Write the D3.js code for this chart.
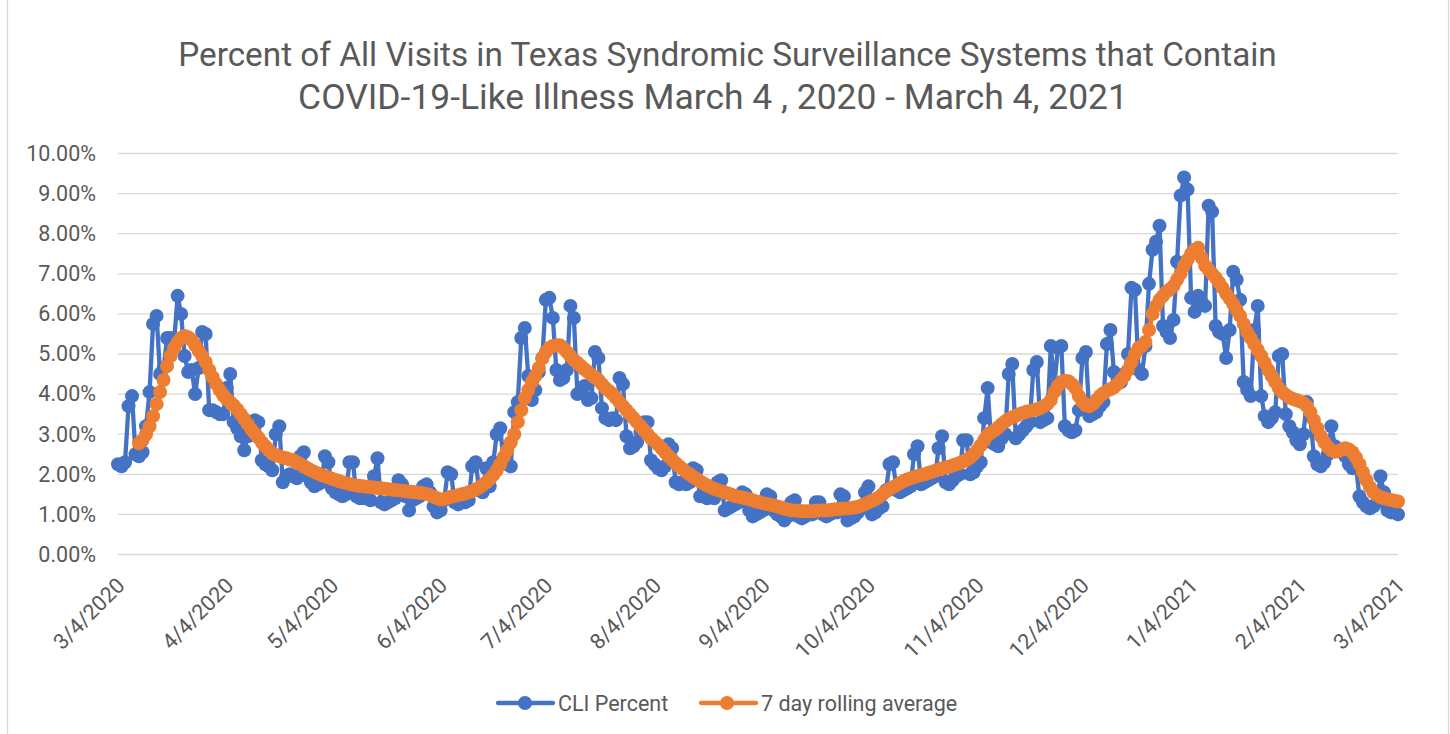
<!DOCTYPE html>
<html>
<head>
<meta charset="utf-8">
<script src="https://cdn.jsdelivr.net/npm/d3@7"></script>
<style>
  html, body { margin: 0; padding: 0; background: #ffffff; }
  svg { display: block; }
  text { font-family: Roboto, "Open Sans", sans-serif; fill: #595959; }
</style>
</head>
<body>
<svg id="chart" width="1450" height="734"></svg>
<script>
// ---------------- DATA ----------------
const titleLines = [
  "Percent of All Visits in Texas Syndromic Surveillance Systems that Contain",
  "COVID-19-Like Illness March 4 , 2020 - March 4, 2021"
];
const seriesNames = ["CLI Percent", "7 day rolling average"];
const startDate = "2020-03-04";
const xTickLabels = ["3/4/2020","4/4/2020","5/4/2020","6/4/2020","7/4/2020","8/4/2020",
  "9/4/2020","10/4/2020","11/4/2020","12/4/2020","1/4/2021","2/4/2021","3/4/2021"];
const yTickValues = [0,1,2,3,4,5,6,7,8,9,10];

// daily CLI percent, 3/4/2020 .. 3/4/2021
const cliPercent = [
  2.25, 2.2, 2.3, 3.7, 3.95, 2.5, 2.45, 2.55, 3.2, 4.05,
  5.75, 5.95, 4.5, 4.65, 5.4, 5.4, 5.3, 6.45, 6.0, 4.95,
  4.55, 4.6, 4.0, 4.65, 5.55, 5.5, 3.6, 3.6, 3.55, 3.5,
  3.5, 4.15, 4.5, 3.3, 3.15, 2.95, 2.6, 2.95, 3.0, 3.35,
  3.3, 2.35, 2.25, 2.2, 2.1, 3.0, 3.2, 1.8, 1.95, 2.0,
  1.95, 1.9, 2.45, 2.55, 1.95, 1.8, 1.7, 1.75, 1.8, 2.45,
  2.3, 1.65, 1.55, 1.5, 1.45, 1.5, 2.3, 2.3, 1.45, 1.4,
  1.4, 1.4, 1.35, 1.95, 2.4, 1.3, 1.25, 1.3, 1.35, 1.4,
  1.85, 1.75, 1.45, 1.1, 1.35, 1.4, 1.45, 1.7, 1.75, 1.55,
  1.2, 1.05, 1.1, 1.35, 2.05, 2.0, 1.3, 1.25, 1.3, 1.3,
  1.35, 2.2, 2.3, 1.6, 1.55, 2.15, 1.7, 2.3, 3.0, 3.15,
  2.3, 2.25, 2.2, 3.55, 3.8, 5.4, 5.65, 4.45, 3.85, 4.1,
  4.55, 4.9, 6.35, 6.4, 5.9, 4.6, 4.35, 4.4, 4.6, 6.2,
  5.9, 4.0, 4.05, 4.2, 3.85, 3.9, 5.05, 4.9, 3.65, 3.4,
  3.35, 3.4, 3.35, 4.4, 4.25, 2.95, 2.65, 2.7, 2.8, 3.05,
  3.3, 3.3, 2.35, 2.25, 2.15, 2.1, 2.2, 2.75, 2.65, 1.8,
  1.75, 1.8, 1.75, 1.8, 2.15, 2.1, 1.45, 1.5, 1.4, 1.45,
  1.4, 1.8, 1.85, 1.1, 1.15, 1.2, 1.25, 1.3, 1.55, 1.5,
  1.1, 0.95, 1.0, 1.05, 1.1, 1.5, 1.45, 1.1, 1.0, 0.95,
  0.85, 0.95, 1.3, 1.35, 0.95, 0.9, 0.95, 1.0, 1.0, 1.3,
  1.3, 1.0, 0.95, 1.0, 1.05, 1.05, 1.5, 1.45, 0.85, 0.9,
  0.95, 1.05, 1.15, 1.55, 1.7, 1.0, 1.05, 1.15, 1.2, 1.6,
  2.25, 2.3, 1.6, 1.55, 1.6, 1.65, 1.7, 2.5, 2.7, 1.75,
  1.8, 1.85, 1.9, 1.95, 2.65, 2.95, 1.8, 1.75, 1.85, 1.95,
  2.0, 2.85, 2.85, 2.0, 2.05, 2.2, 2.3, 3.4, 4.15, 2.8,
  2.75, 2.7, 2.9, 3.0, 4.5, 4.75, 2.9, 3.0, 3.1, 3.2,
  3.3, 4.6, 4.8, 3.3, 3.35, 3.4, 5.2, 4.2, 5.15, 5.2,
  3.2, 3.1, 3.05, 3.1, 3.6, 4.9, 5.05, 3.45, 3.5, 3.55,
  3.7, 3.8, 5.25, 5.6, 4.55, 4.4, 4.3, 4.5, 5.0, 6.65,
  6.6, 4.6, 4.5, 5.2, 6.75, 7.6, 7.8, 8.2, 5.7, 5.55,
  5.4, 5.85, 7.3, 8.95, 9.4, 9.1, 6.4, 6.05, 6.45, 6.3,
  6.2, 8.7, 8.55, 5.7, 5.55, 5.5, 4.9, 5.6, 7.05, 6.85,
  6.35, 4.3, 4.1, 3.95, 5.6, 6.2, 3.95, 3.45, 3.3, 3.4,
  3.55, 4.95, 5.0, 3.5, 3.2, 3.05, 2.85, 2.75, 3.0, 3.8,
  3.45, 2.45, 2.25, 2.2, 2.3, 2.5, 3.2, 2.7, 2.6, 2.55,
  2.45, 2.25, 2.15, 2.2, 1.45, 1.3, 1.2, 1.15, 1.2, 1.3,
  1.95, 1.55, 1.1, 1.05, 1.05, 1.0
];

// 7 day rolling average, first value on day 7 (3/10/2020)
const rollingStartDay = 6;
const rollingAverage = [
  2.77, 2.85, 3.0, 3.2, 3.45, 3.75, 4.05, 4.35, 4.7, 4.95,
  5.15, 5.3, 5.4, 5.45, 5.42, 5.35, 5.22, 5.08, 4.95, 4.8,
  4.6, 4.42, 4.25, 4.1, 3.97, 3.87, 3.8, 3.72, 3.62, 3.5,
  3.38, 3.25, 3.12, 3.02, 2.92, 2.8, 2.7, 2.6, 2.52, 2.48,
  2.45, 2.42, 2.4, 2.37, 2.35, 2.3, 2.25, 2.2, 2.15, 2.1,
  2.06, 2.02, 1.98, 1.95, 1.92, 1.89, 1.86, 1.83, 1.8, 1.78,
  1.76, 1.74, 1.72, 1.71, 1.7, 1.69, 1.68, 1.67, 1.66, 1.65,
  1.64, 1.63, 1.62, 1.61, 1.6, 1.59, 1.58, 1.57, 1.56, 1.55,
  1.54, 1.53, 1.51, 1.48, 1.44, 1.4, 1.37, 1.38, 1.41, 1.44,
  1.46, 1.48, 1.5, 1.52, 1.55, 1.58, 1.62, 1.67, 1.73, 1.8,
  1.88, 1.98, 2.1, 2.25, 2.43, 2.6, 2.8, 3.0, 3.3, 3.6,
  3.9, 4.1, 4.3, 4.45, 4.65, 4.9, 5.05, 5.15, 5.2, 5.22,
  5.22, 5.15, 5.05, 4.95, 4.85, 4.78, 4.7, 4.62, 4.55, 4.48,
  4.42, 4.35, 4.25, 4.15, 4.08, 4.0, 3.9, 3.8, 3.7, 3.6,
  3.5, 3.4, 3.3, 3.2, 3.1, 3.0, 2.9, 2.82, 2.74, 2.65,
  2.55, 2.45, 2.37, 2.28, 2.2, 2.13, 2.06, 2.0, 1.94, 1.88,
  1.82, 1.77, 1.72, 1.68, 1.64, 1.61, 1.58, 1.55, 1.52, 1.49,
  1.46, 1.44, 1.42, 1.4, 1.38, 1.35, 1.32, 1.3, 1.28, 1.26,
  1.24, 1.22, 1.2, 1.17, 1.14, 1.12, 1.1, 1.1, 1.09, 1.08,
  1.08, 1.08, 1.08, 1.09, 1.1, 1.1, 1.1, 1.11, 1.12, 1.13,
  1.14, 1.15, 1.15, 1.16, 1.17, 1.19, 1.22, 1.26, 1.3, 1.34,
  1.38, 1.43, 1.5, 1.57, 1.63, 1.68, 1.73, 1.78, 1.83, 1.87,
  1.9, 1.93, 1.96, 1.98, 2.0, 2.03, 2.06, 2.09, 2.12, 2.15,
  2.17, 2.19, 2.22, 2.25, 2.28, 2.32, 2.36, 2.42, 2.5, 2.6,
  2.72, 2.85, 2.98, 3.05, 3.1, 3.17, 3.25, 3.32, 3.38, 3.42,
  3.46, 3.5, 3.53, 3.56, 3.58, 3.6, 3.62, 3.65, 3.7, 3.75,
  3.85, 4.05, 4.2, 4.3, 4.33, 4.32, 4.25, 4.15, 3.95, 3.8,
  3.72, 3.7, 3.75, 3.85, 3.95, 4.02, 4.08, 4.12, 4.17, 4.25,
  4.35, 4.45, 4.6, 4.8, 5.0, 5.15, 5.2, 5.3, 5.6, 6.0,
  6.2, 6.35, 6.45, 6.55, 6.62, 6.7, 6.85, 7.0, 7.2, 7.35,
  7.5, 7.6, 7.65, 7.4, 7.2, 7.1, 7.0, 6.9, 6.78, 6.65,
  6.5, 6.38, 6.25, 6.1, 5.95, 5.75, 5.55, 5.4, 5.25, 5.1,
  4.95, 4.78, 4.6, 4.45, 4.3, 4.15, 4.05, 3.98, 3.92, 3.88,
  3.85, 3.82, 3.78, 3.7, 3.55, 3.35, 3.15, 2.95, 2.8, 2.68,
  2.6, 2.56, 2.58, 2.62, 2.65, 2.62, 2.55, 2.42, 2.25, 2.05,
  1.85, 1.68, 1.55, 1.48, 1.43, 1.4, 1.38, 1.36, 1.34, 1.32
];

const colors = ["#4472c4", "#ed7d31"];

// ---------------- CHART ----------------
const svg = d3.select("#chart");
const parseDay = d3.utcParse("%Y-%m-%d");
const parseLabel = d3.utcParse("%m/%d/%Y");
const day0 = parseDay(startDate);

const cliData = cliPercent.map((v, i) => ({ date: d3.utcDay.offset(day0, i), value: v }));
const avgData = rollingAverage.map((v, i) => ({ date: d3.utcDay.offset(day0, i + rollingStartDay), value: v }));
const tickDates = xTickLabels.map(parseLabel);

const plot = { left: 118, right: 1398, top: 153.5, bottom: 554.5 };
const x = d3.scaleUtc().domain([tickDates[0], tickDates[tickDates.length - 1]]).range([plot.left, plot.right]);
const y = d3.scaleLinear().domain([0, 10]).range([plot.bottom, plot.top]);

// outer chart border
svg.append("rect").attr("x", 7.5).attr("y", -3).attr("width", 1441).attr("height", 742)
  .attr("fill", "none").attr("stroke", "#d9d9d9").attr("stroke-width", 1.3);

// title (each line fitted to its measured width in the reference)
const titleCenters = [727.5, 713];
const titleBaselines = [66, 109];
const titleWidths = [1099, 830];
const tl = svg.append("g").selectAll("text").data(titleLines).join("text")
  .attr("x", (d, i) => titleCenters[i]).attr("y", (d, i) => titleBaselines[i])
  .attr("text-anchor", "middle").style("font-size", "30px").text(d => d);
tl.each(function(d, i) {
  const w = this.getComputedTextLength();
  d3.select(this).style("font-size", (30 * titleWidths[i] / w) + "px");
});

// gridlines
svg.append("g").selectAll("line").data(yTickValues).join("line")
  .attr("x1", plot.left).attr("x2", plot.right)
  .attr("y1", d => y(d)).attr("y2", d => y(d))
  .attr("stroke", "#d9d9d9").attr("stroke-width", 1.3);

// y axis labels
const yAxis = d3.axisLeft(y).tickValues(yTickValues).tickSize(0).tickPadding(0)
  .tickFormat(d => d3.format(".2f")(d) + "%");
const gy = svg.append("g").attr("transform", `translate(96,0)`).call(yAxis);
gy.select(".domain").remove();
gy.selectAll("text").style("font-size", "21.5px").attr("fill", "#595959")
  .style("font-family", "Roboto, 'Open Sans', sans-serif");

// x axis labels (rotated)
svg.append("g").selectAll("text").data(xTickLabels).join("text")
  .attr("transform", (d, i) => `translate(${x(tickDates[i]) + 8},587) rotate(-45)`)
  .attr("text-anchor", "end").style("font-size", "21.5px").text(d => d);

// series
const line = d3.line().x(d => x(d.date)).y(d => y(d.value));
const series = [cliData, avgData];
series.forEach((data, si) => {
  const g = svg.append("g");
  g.append("path").datum(data).attr("d", line).attr("fill", "none")
    .attr("stroke", colors[si]).attr("stroke-width", si === 0 ? 4.3 : 4.8)
    .attr("stroke-linejoin", "round").attr("stroke-linecap", "round");
  g.selectAll("circle").data(data).join("circle")
    .attr("cx", d => x(d.date)).attr("cy", d => y(d.value)).attr("r", 7)
    .attr("fill", colors[si]);
});

// legend
const legendItems = [
  { x1: 498, x2: 553, cx: 525, tx: 558, w: 107 },
  { x1: 701, x2: 756, cx: 727, tx: 761, w: 201 }
];
const ly = 703;
const lg = svg.append("g");
legendItems.forEach((it, i) => {
  lg.append("line").attr("x1", it.x1).attr("x2", it.x2).attr("y1", ly).attr("y2", ly)
    .attr("stroke", colors[i]).attr("stroke-width", 4.3).attr("stroke-linecap", "round");
  lg.append("circle").attr("cx", it.cx).attr("cy", ly).attr("r", 7).attr("fill", colors[i]);
  lg.append("text").attr("x", it.tx).attr("y", ly).attr("dy", "0.35em")
    .style("font-size", "21.5px").text(seriesNames[i]);
});
</script>
</body>
</html>
